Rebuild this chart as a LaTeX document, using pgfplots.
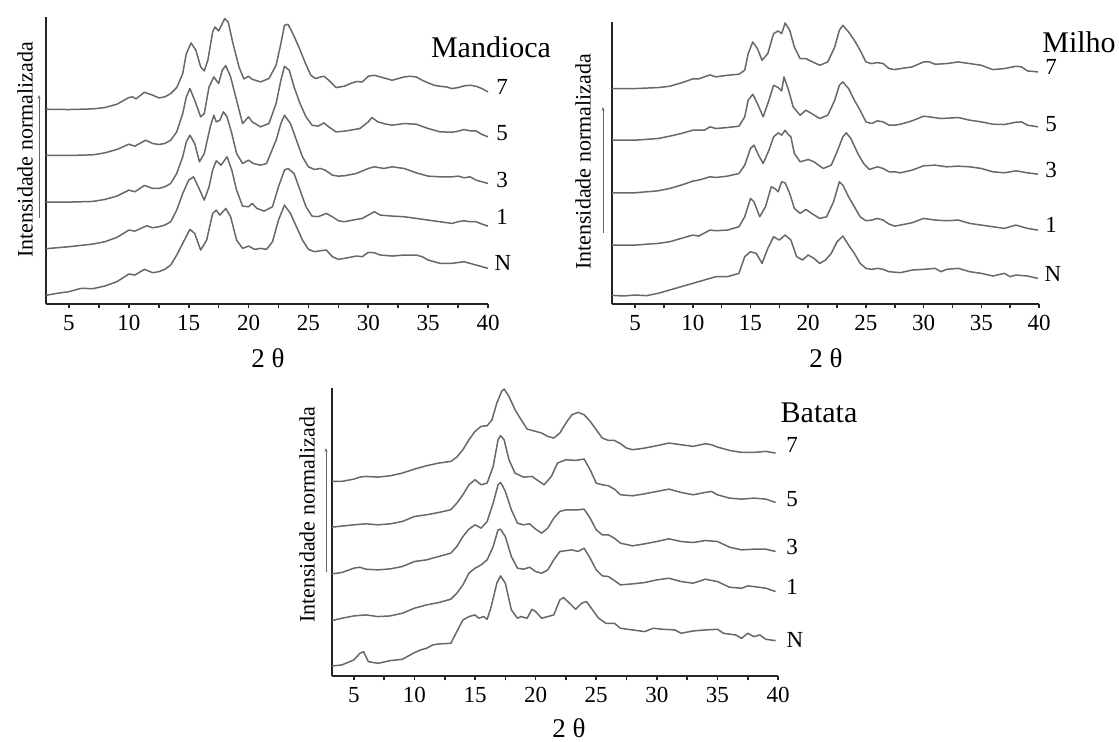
\documentclass[border=0pt]{standalone}
\usepackage{fontspec}
\setmainfont{Liberation Serif}
\usepackage{pgfplots}
\pgfplotsset{compat=1.18}
\usetikzlibrary{arrows.meta}
\definecolor{xrd}{RGB}{110,102,96}

% one panel = stack of diffractograms, y read top-down from the picture
\pgfplotsset{
  xrdpanel/.style={
    scale only axis,
    axis x line*=bottom, axis y line*=left,
    axis line style={black!85, line width=0.9pt},
    y filter/.expression={-y},
    xmax=40,
    ytick=\empty,
    xtick={5,10,...,40},
    minor xtick={7.5,12.5,...,37.5},
    tick align=outside,
    major tick length=2.2pt, minor tick length=2.2pt,
    tick style={black!85, line width=0.8pt},
    xticklabel style={font=\fontsize{11.5}{13}\selectfont},
    /pgf/number format/assume math mode=true,
    clip=false,
  },
  xrdl/.style={xrd, line width=0.75pt, line join=round, mark=none},
}
\tikzset{num/.style={font=\fontsize{11.5}{13}\selectfont, inner sep=0pt},
  ttl/.style={font=\fontsize{15}{17}\selectfont, inner sep=0pt},
  ylab/.style={font=\fontsize{11}{13}\selectfont, rotate=90, inner sep=0pt},
  xlab/.style={font=\fontsize{13.5}{15}\selectfont, inner sep=0pt}}

\begin{document}
\begin{tikzpicture}

% ---------------- Mandioca ----------------
\begin{axis}[xrdpanel, at={(23pt,219pt)}, anchor=south west,
  width=221pt, height=143.5pt, xmin=3.08, ymin=-912, ymax=-50]
\addplot[xrdl] coordinates {(3.08,327)(5,328)(7,326)(8,322)(9,312)(10,292)(10.3,290)(10.6,296)(11.3,276)(12,285)(12.5,293)(13,290)(13.5,280)(14,262)(14.5,220)(14.8,160)(15.2,128)(15.6,150)(16,200)(16.3,212)(16.6,180)(17,95)(17.2,80)(17.5,92)(17.8,70)(18,55)(18.3,65)(18.7,130)(19.2,200)(19.6,236)(20,228)(20.3,237)(21,245)(21.7,235)(22.3,195)(22.7,130)(23,75)(23.3,72)(23.7,100)(24.2,140)(24.7,185)(25.2,225)(25.6,235)(26,230)(26.3,228)(26.7,240)(27.3,262)(28,258)(28.5,250)(29,244)(29.5,245)(30,228)(30.5,225)(31,230)(31.5,235)(32,240)(32.5,235)(33,230)(33.5,228)(34,230)(34.5,240)(35,248)(35.5,255)(36,258)(36.5,260)(37,265)(37.5,262)(38,257)(38.5,255)(39,258)(39.5,265)(40,275)};
\addplot[xrdl] coordinates {(3.08,466)(5,466)(7,464)(8,458)(9,448)(10,432)(10.5,438)(11.4,420)(12,430)(12.5,433)(13,430)(13.5,420)(14,395)(14.5,340)(14.8,290)(15.1,265)(15.5,300)(16,350)(16.3,340)(16.7,260)(17.1,230)(17.5,250)(17.8,210)(18.1,196)(18.5,230)(19,300)(19.5,370)(20,350)(20.3,365)(21,380)(21.7,370)(22.3,310)(22.7,240)(23,198)(23.4,210)(23.8,260)(24.3,310)(24.8,350)(25.3,375)(25.8,378)(26.3,368)(26.7,380)(27.3,395)(28,393)(28.5,390)(29.3,385)(30,365)(30.3,352)(30.8,365)(31.5,372)(32,375)(33,370)(34,372)(35,385)(35.5,390)(36,395)(37,396)(37.5,393)(38,388)(38.5,392)(39,392)(39.5,403)(40,410)};
\addplot[xrdl] coordinates {(3.08,606)(5,606)(7,604)(8,598)(9,588)(10,570)(10.5,575)(11.3,556)(12,565)(12.5,565)(13,560)(13.5,550)(14,520)(14.5,470)(14.8,425)(15.1,405)(15.5,430)(15.9,485)(16.3,460)(16.8,380)(17.1,345)(17.3,365)(17.6,360)(17.9,335)(18.2,350)(18.6,400)(19,460)(19.5,490)(20,480)(20.4,490)(21,495)(21.5,490)(22.3,420)(22.7,370)(23,345)(23.5,370)(24,420)(24.5,470)(25,500)(25.5,508)(26,505)(26.4,510)(27,525)(27.5,528)(28,527)(29,520)(30,505)(30.5,500)(31.3,505)(32,500)(33,505)(34,518)(35,528)(36,530)(37,530)(37.5,528)(38,533)(38.5,530)(39,540)(39.5,545)(40,550)};
\addplot[xrdl] coordinates {(3.08,746)(5,740)(7,732)(8,725)(9,712)(10,690)(10.5,693)(11.5,677)(12,683)(12.5,680)(13,675)(13.5,665)(14,630)(14.5,580)(15,540)(15.4,530)(15.8,560)(16.3,600)(16.7,560)(17,510)(17.3,482)(17.7,495)(18.2,470)(18.6,510)(19,570)(19.5,618)(20,620)(20.3,610)(20.7,625)(21.3,633)(22,620)(22.5,560)(23,510)(23.3,505)(23.8,520)(24.3,570)(24.8,620)(25.3,648)(25.8,650)(26.5,640)(27,650)(27.5,662)(28,665)(29,658)(29.5,655)(30,645)(30.5,635)(31,645)(32,648)(33,650)(34,655)(35,660)(36,665)(37,670)(37.5,665)(38,662)(38.5,665)(39,665)(39.5,672)(40,678)};
\addplot[xrdl] coordinates {(3.08,886)(4,880)(5,875)(6,865)(7,866)(8,858)(9,845)(10,822)(10.5,825)(11.3,808)(12,818)(12.5,815)(13,808)(13.5,795)(14,765)(14.5,730)(15.1,688)(15.5,700)(16,750)(16.5,720)(17,640)(17.3,630)(17.6,645)(18.1,625)(18.5,650)(19,720)(19.5,745)(20,738)(20.5,748)(21,745)(21.5,748)(22,725)(22.5,660)(23,615)(23.5,640)(24,680)(24.5,720)(25,748)(25.5,755)(26,752)(26.5,750)(27,770)(27.5,778)(28,775)(29,768)(29.5,770)(30,757)(30.5,758)(31,765)(32,768)(33,765)(34,765)(34.5,770)(35,780)(36,790)(37,790)(38,785)(38.5,790)(39,795)(39.5,800)(40,805)};
\end{axis}

% ---------------- Milho ----------------
\begin{axis}[xrdpanel, at={(306pt,219pt)}, anchor=south west,
  width=213.5pt, height=141pt, xmin=3.0, ymin=-912, ymax=-65]
\addplot[xrdl] coordinates {(3.0,265)(5,265)(7,262)(8,258)(9,248)(10,236)(10.5,236)(11.5,224)(12,230)(13,225)(14,222)(14.5,210)(14.8,160)(15.2,125)(15.6,145)(16,180)(16.5,160)(17,100)(17.4,92)(17.7,100)(18,68)(18.4,90)(18.8,140)(19.3,175)(19.8,175)(20.2,182)(21,195)(21.7,185)(22.3,140)(22.7,90)(23,75)(23.5,95)(24,120)(24.5,150)(25,185)(25.5,190)(26,187)(26.5,190)(27,205)(27.5,208)(28,205)(29,200)(30,185)(30.5,185)(31,192)(32,190)(33,185)(34,190)(35,195)(36,208)(37,205)(38,198)(38.5,200)(39,212)(39.9,215)};
\addplot[xrdl] coordinates {(3.0,420)(5,420)(7,415)(8,408)(9,400)(10,390)(11,390)(11.5,380)(12,385)(13,382)(14,378)(14.5,350)(14.8,300)(15.2,282)(15.6,310)(16.1,350)(16.6,300)(17,255)(17.4,262)(17.7,272)(17.9,230)(18.1,250)(18.3,270)(18.7,320)(19.3,345)(19.8,330)(20.3,340)(21,355)(21.7,345)(22.3,300)(22.7,255)(23,245)(23.5,265)(24,300)(24.5,330)(25,365)(25.5,370)(26,362)(26.5,365)(27,375)(27.5,375)(28,372)(29,362)(30,348)(30.5,350)(31.5,355)(33,352)(34,360)(35,365)(36,372)(37,373)(38,366)(38.5,365)(39,375)(39.9,380)};
\addplot[xrdl] coordinates {(3.0,578)(5,578)(7,572)(8,565)(9,555)(10,543)(10.5,540)(11.5,530)(12,532)(13,528)(14,520)(14.5,495)(15,445)(15.3,435)(15.7,465)(16.1,490)(16.6,450)(17,410)(17.4,398)(17.7,405)(18,390)(18.2,400)(18.5,410)(18.8,460)(19.3,485)(20,478)(20.5,485)(21.3,505)(22,495)(22.5,455)(23,410)(23.3,398)(23.7,415)(24.3,460)(24.8,490)(25.3,508)(26,500)(26.5,505)(27,515)(27.5,515)(28,518)(29,510)(30,497)(31,495)(32,500)(33,498)(34,500)(35,505)(36,515)(37,518)(38,512)(38.5,515)(39,518)(39.9,522)};
\addplot[xrdl] coordinates {(3.0,735)(5,735)(7,730)(8,725)(9,715)(10,705)(10.5,708)(11.5,690)(12,692)(13,690)(14,680)(14.5,650)(15,595)(15.3,605)(15.8,650)(16.3,620)(16.8,560)(17.1,565)(17.4,575)(17.7,545)(18,548)(18.4,580)(18.8,625)(19.3,640)(19.8,628)(20.3,640)(21,655)(21.6,650)(22.2,605)(22.7,545)(23,555)(23.5,590)(24,620)(24.5,650)(25,662)(25.5,660)(26,655)(26.5,660)(27,672)(27.5,678)(28,675)(29,668)(30,655)(31,660)(32,662)(33,660)(34,670)(35,675)(36,680)(37,685)(38,675)(38.5,680)(39,685)(39.9,690)};
\addplot[xrdl] coordinates {(3.0,886)(4,888)(5,885)(6,887)(7,880)(8,870)(9,860)(10,850)(11,840)(12,830)(13,830)(14,820)(14.5,770)(15,755)(15.5,760)(16,790)(16.5,745)(17,710)(17.5,720)(18,705)(18.5,720)(19,770)(19.5,780)(20,765)(20.5,775)(21,790)(21.5,780)(22,760)(22.5,725)(23,708)(23.5,735)(24,760)(24.5,790)(25,805)(25.5,808)(26,805)(26.5,808)(27,815)(28,818)(29,810)(30,808)(31,805)(31.5,815)(32,808)(33,805)(34,815)(35,820)(36,828)(37,820)(37.5,830)(38,825)(39,828)(39.9,835)};
\end{axis}

% ---------------- Batata ----------------
\begin{axis}[xrdpanel, at={(166pt,33pt)}, anchor=south west,
  width=223pt, height=144pt, xmin=3.2, ymin=-918, ymax=-55]
\addplot[xrdl] coordinates {(3.2,335)(4,335)(5,328)(5.5,322)(6,320)(7,322)(8,318)(9,310)(10,298)(11,288)(12,280)(13,275)(13.5,262)(14,240)(14.5,210)(15,185)(15.5,170)(16,168)(16.4,150)(16.8,100)(17.2,65)(17.4,58)(17.8,80)(18.3,120)(18.8,150)(19.3,178)(20,185)(20.5,190)(21,200)(21.5,205)(22,190)(22.5,160)(23,135)(23.5,128)(24,135)(24.5,155)(25,180)(25.5,205)(26,212)(26.5,212)(27,222)(27.5,235)(28,240)(29,235)(30,228)(31,220)(32,225)(33,230)(34,222)(34.5,225)(35,232)(36,242)(37,248)(38,248)(39,245)(39.8,250)};
\addplot[xrdl] coordinates {(3.2,472)(5,465)(6,462)(7,465)(8,462)(9,455)(10,440)(11,435)(12,428)(13,420)(13.5,400)(14,375)(14.5,345)(15,330)(15.5,345)(16,340)(16.5,290)(16.9,210)(17.1,198)(17.4,210)(17.8,270)(18.3,310)(19,322)(19.7,320)(20.3,335)(20.7,345)(21.3,320)(21.8,280)(22.5,270)(23.3,272)(24,268)(24.5,300)(25,340)(25.5,345)(26,348)(26.5,358)(27,375)(28,378)(29,372)(30,365)(31,358)(32,368)(33,375)(34,368)(34.5,365)(35,375)(36,385)(37,388)(38,385)(39,388)(39.8,398)};
\addplot[xrdl] coordinates {(3.2,612)(4,608)(5,595)(5.5,592)(6,598)(7,600)(8,597)(9,590)(10,575)(11,570)(12,560)(13,550)(13.5,530)(14,500)(14.5,478)(15,465)(15.5,475)(16,455)(16.5,400)(16.9,345)(17.1,338)(17.3,350)(17.5,365)(18,420)(18.5,460)(19,465)(19.5,462)(20,478)(20.5,490)(21,475)(21.5,445)(22,425)(22.5,420)(23.5,420)(24,418)(24.5,445)(25,480)(25.5,495)(26,495)(26.5,505)(27,520)(28,528)(29,522)(30,515)(31,507)(32,515)(33,518)(34,512)(35,515)(36,532)(37,540)(38,538)(39,538)(39.8,545)};
\addplot[xrdl] coordinates {(3.2,752)(4,745)(5,738)(6,735)(7,740)(8,738)(9,730)(10,715)(11,705)(12,698)(13,688)(13.5,670)(14,645)(14.5,610)(15,595)(15.5,585)(16,570)(16.5,530)(16.9,480)(17.1,478)(17.5,500)(18,560)(18.5,595)(19,598)(19.5,592)(20,605)(20.5,610)(21,600)(21.5,570)(22,545)(23,540)(23.5,545)(24,535)(24.5,565)(25,600)(25.5,618)(26,620)(26.5,632)(27,645)(28,642)(29,638)(30,630)(31,625)(32,635)(33,640)(34,628)(35,635)(36,652)(37,655)(37.5,648)(38,650)(39,655)(39.8,665)};
\addplot[xrdl] coordinates {(3.2,888)(4,885)(5,870)(5.5,850)(5.8,845)(6.2,875)(7,880)(8,872)(9,868)(10,848)(10.5,840)(11,835)(11.5,825)(12,822)(13,820)(13.5,785)(14,750)(14.5,740)(15,735)(15.3,745)(15.7,740)(16,748)(16.3,715)(16.8,640)(17.1,618)(17.5,640)(18,720)(18.5,745)(18.8,740)(19.3,745)(19.7,718)(20,725)(20.5,745)(21,740)(21.5,735)(22,690)(22.3,683)(22.8,700)(23.3,718)(23.8,700)(24.2,695)(24.7,720)(25.2,745)(25.8,760)(26.5,760)(27,775)(28,780)(29,785)(29.7,775)(30.5,778)(31.5,780)(32,790)(33,783)(34,780)(35,778)(35.5,790)(36.5,795)(37,805)(37.5,790)(38,800)(38.5,795)(39,808)(39.8,812)};
\end{axis}

% ---------------- labels ----------------
\node[ttl] at (245.5pt,347.5pt) {Mandioca};
\node[num] at (251pt,327.5pt) {7};
\node[num] at (251pt,304.5pt) {5};
\node[num] at (251pt,281pt) {3};
\node[num] at (251pt,262.5pt) {1};
\node[num] at (251.5pt,239.5pt) {N};
\node[ylab] at (12.5pt,296pt) {Intensidade normalizada};
\draw[black!60, line width=0.4pt, -{Stealth[length=2pt,width=1.5pt]}] (19.5pt,262pt) -- (19.5pt,323.5pt);
\node[xlab] at (134pt,192pt) {2 θ};

\node[ttl] at (539.5pt,350pt) {Milho};
\node[num] at (525.5pt,337.5pt) {7};
\node[num] at (525.5pt,309pt) {5};
\node[num] at (525.5pt,286pt) {3};
\node[num] at (525.5pt,258.5pt) {1};
\node[num] at (526.5pt,234pt) {N};
\node[ylab] at (291.5pt,290pt) {Intensidade normalizada};
\draw[black!60, line width=0.4pt, -{Stealth[length=2pt,width=1.5pt]}] (301.5pt,254.5pt) -- (301.5pt,317.5pt);
\node[xlab] at (413pt,192pt) {2 θ};

\node[ttl] at (409.5pt,164.5pt) {Batata};
\node[num] at (396pt,148.5pt) {7};
\node[num] at (396pt,121.5pt) {5};
\node[num] at (396pt,97.5pt) {3};
\node[num] at (396pt,77.5pt) {1};
\node[num] at (397.5pt,51pt) {N};
\node[ylab] at (153.5pt,113.5pt) {Intensidade normalizada};
\draw[black!60, line width=0.4pt, -{Stealth[length=2pt,width=1.5pt]}] (163pt,85pt) -- (163pt,147pt);
\node[xlab] at (284.5pt,7pt) {2 θ};

\pgfresetboundingbox
\path[use as bounding box] (0pt,0pt) rectangle (559.5pt,371pt);
\end{tikzpicture}
\end{document}
